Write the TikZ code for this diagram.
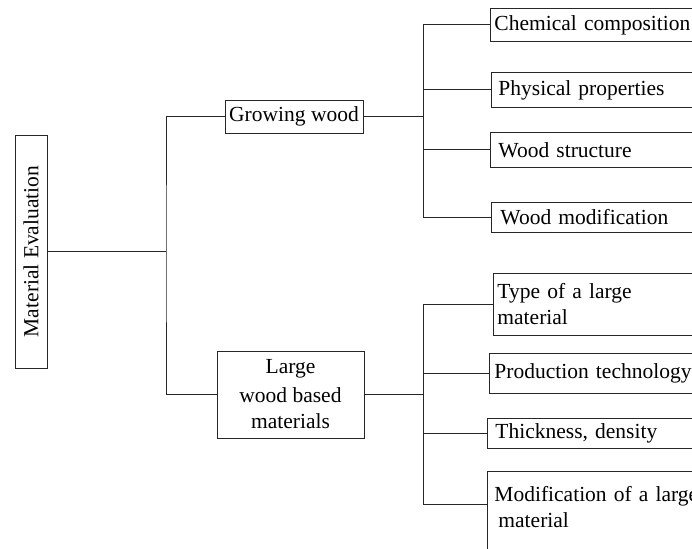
\documentclass[tikz,border=0pt]{standalone}
\usepackage{fontspec}
\setmainfont{Liberation Serif}
\newcommand{\boxfont}{\fontsize{21.5}{26}\selectfont}
\begin{document}
\begin{tikzpicture}[x=1pt, y=-1pt]
    \tikzset{
        box/.style={draw=black!85, line width=0.9pt, fill=white, inner sep=0pt, font=\boxfont},
        leaf/.style={box, anchor=north west, text width=240pt, align=left},
        link/.style={draw=black!85, line width=0.9pt}
    }
    \useasboundingbox (0,0) rectangle (692,548);
    \clip (0,0) rectangle (692,548);
    \node[box, minimum width=32pt, minimum height=233pt] (root) at (31,251.5) {\rotatebox{90}{Material Evaluation}};
    \node[box, minimum width=138pt, minimum height=33pt] (grow) at (294,116.5) {Growing wood};
    \node[box, minimum width=147pt, minimum height=87pt, align=center] (large) at (290.5,394.5)
        {Large\\[3pt] wood based\\ materials};
    \node[leaf, inner xsep=4pt, minimum height=33pt] (chem) at (490,8) {Chemical composition};
    \node[leaf, inner xsep=7pt, minimum height=35pt] (phys) at (491,72) {Physical properties};
    \node[leaf, inner xsep=8pt, minimum height=35pt] (struct) at (490,132) {Wood structure};
    \node[leaf, inner xsep=9pt, minimum height=30pt] (wmod) at (491,202) {Wood modification};
    \node[leaf, inner xsep=4pt, minimum height=62pt] (type) at (493,273) {Type of a large\\ material};
    \node[leaf, inner xsep=5pt, minimum height=40pt] (prod) at (489,353) {Production technology};
    \node[leaf, inner xsep=8pt, minimum height=30pt] (thick) at (487,418) {Thickness, density};
    \node[leaf, inner xsep=7pt, inner ysep=15pt] (lmod) at (487,471)
        {Modification of a large\\ \hspace*{4pt}material\\ \strut};
    \coordinate (busA) at (166,251.5);
    \coordinate (busB) at (423,116.5);
    \coordinate (busC) at (423,394.5);
    \draw[link] (root.east) -- (busA);
    \draw[link] (grow.west) -| (busA) |- (large.west);
    \draw[link] (grow.east) -- (busB);
    \foreach \n in {chem,phys,struct,wmod}
        \draw[link] (busB) |- (\n.west);
    \draw[link] (large.east) -- (busC);
    \foreach \n in {type,prod,thick}
        \draw[link] (busC) |- (\n.west);
    \draw[link] (busC) |- ([yshift=-33pt]lmod.north west);
\end{tikzpicture}
\end{document}
